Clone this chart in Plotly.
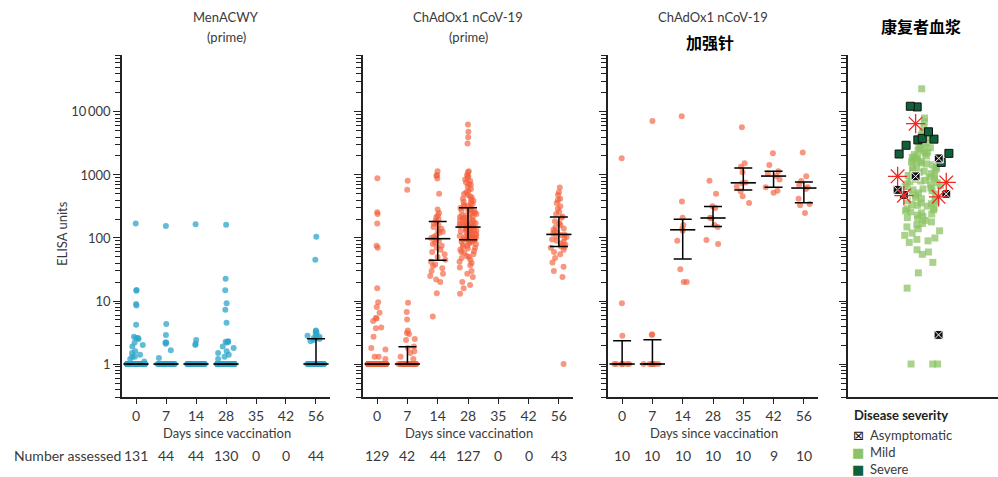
import numpy as np
import plotly.graph_objects as go

# ---------------------------------------------------------------- data
DAYS = ["0", "7", "14", "28", "35", "42", "56"]

# MenACWY (prime) – ELISA units per participant, by day
MEN_D0 = [170, 15, 14.5, 9, 8.5, 4.2, 2.7, 2.6, 2.5, 2.6, 2.2, 2.0, 1.9, 1.6, 1.5,
          1.4, 1.3, 1.2, 1.3, 1.1] + [1] * 111
MEN_D7 = [155, 4.3, 2.9, 2.2, 2.1, 2.2, 1.65, 1.25] + [1] * 36
MEN_D14 = [165, 2.4, 2.0, 2.1] + [1] * 40
MEN_D28 = [162, 22.5, 14.8, 9.2, 7.3, 4.5, 2.25, 2.3, 2.2, 2.25, 1.9, 1.8, 1.6, 1.5,
           1.4, 1.3, 1.2] + [1] * 113
MEN_D35 = []
MEN_D42 = []
MEN_D56 = [105, 45, 3.4, 3.3, 3.2, 3.0, 2.9, 2.8, 2.7, 2.6, 2.6, 2.5, 2.4, 2.3] + [1] * 30

# ChAdOx1 nCoV-19 (prime)
CHP_D0 = [890, 255, 240, 170, 75, 70, 16, 9.6, 8, 6.5, 5.4, 5.3, 4.8, 3.8, 3.7, 2.7,
          1.8, 1.7, 1.3, 1.3, 1.2] + [1] * 108
CHP_D7 = [810, 585, 9.4, 6.7, 5.1, 3.4, 3.1, 3.0, 2.5, 2.4, 1.9, 1.8, 1.6, 1.5, 1.3,
          1.2] + [1] * 26
CHP_D14 = [5.7, 13.3, 20, 22, 25, 27, 30, 33, 36, 38, 42, 45, 50, 55, 60, 65, 70, 75,
           80, 85, 90, 95, 100, 105, 110, 120, 125, 130, 140, 150, 160, 170, 180, 190,
           200, 215, 230, 250, 283, 505, 880, 970, 1000, 1140]
CHP_D28 = [6300, 4850, 3950, 3150, 1150, 1100, 1000, 950, 900, 850, 800, 760, 720, 700,
           650, 600, 560, 530, 500, 480, 460, 440, 420, 400, 390, 375, 360, 345, 335,
           325, 315,
           305, 300, 290, 280, 270, 265, 260, 250, 245, 240, 230, 225, 220, 215, 210,
           205, 200, 195, 190, 185, 180, 175, 172, 170, 168, 165, 162, 160, 158, 155,
           152, 150, 149,
           146, 143, 140, 138, 135, 132, 130, 128, 125, 122, 120, 118, 116, 114, 112,
           110, 108, 106, 104, 103, 102, 101, 100, 99, 98, 97, 96, 96, 95, 95, 95,
           93, 91, 89, 87, 85, 83, 80, 78, 75, 72, 70, 68, 65, 62, 60, 58, 55, 52, 50,
           48, 45, 42, 40, 37, 34, 30, 27, 24, 20, 18, 16, 13]
CHP_D35 = []
CHP_D42 = []
CHP_D56 = [1, 24, 30, 35, 41, 48, 55, 60, 65, 70, 72, 74, 78, 82, 86, 90, 95, 100, 104,
           108, 112, 114, 118, 122, 128, 135, 142, 150, 160, 172, 185, 210, 220, 240,
           260, 290, 320, 360, 400, 420, 480, 530, 635]

# ChAdOx1 nCoV-19 booster
CHB_D0 = [1840, 9.2, 2.8, 1, 1, 1, 1, 1, 1, 1]
CHB_D7 = [7200, 2.97, 2.9, 1, 1, 1, 1, 1, 1, 1]
CHB_D14 = [8500, 380, 210, 160, 140, 130, 90, 32, 20, 20]
CHB_D28 = [810, 505, 320, 300, 210, 205, 160, 150, 93, 80]
CHB_D35 = [5700, 1540, 1350, 1100, 760, 740, 650, 550, 460, 360]
CHB_D42 = [2200, 1440, 1150, 1050, 960, 850, 640, 560, 520]
CHB_D56 = [2280, 950, 800, 700, 640, 600, 420, 345, 330, 250]

# Convalescent plasma, by disease severity
CP_MILD = [23300, 8000, 7000, 5600, 4800, 4300, 3900, 3600, 3400, 3200, 3000, 2800,
           2700, 2600, 2500, 2400, 2300, 2200, 2100, 2000, 1950, 1900, 1850, 1800,
           1700, 1650, 1600, 1550, 1500, 1450, 1400, 1350, 1300, 1250, 1200, 1180,
           1150, 1100, 1050, 1000, 980, 950, 920, 900, 870, 850, 820, 800, 780, 750,
           720, 700, 680, 650, 620, 600, 580, 560, 540, 520, 500, 480, 460, 440, 420,
           400, 390, 380, 360, 350, 340, 330, 320, 300, 290, 280, 270, 260, 250, 240,
           230, 220, 210, 200, 190, 180, 170, 160, 150, 140, 130, 120, 110, 100, 95,
           90, 85, 65, 60, 55, 41, 28, 16, 1, 1, 1]
CP_SEVERE = [12300, 12000, 4840, 3800, 3700, 3600, 2960, 2200, 2150, 1580]
CP_ASYMPTOMATIC = [1830, 950, 580, 500, 480, 2.9]
CP_HIGHLIGHT = [6500, 950, 760, 470, 450]

SEVERITY = ["Asymptomatic", "Mild", "Severe"]

Y_TICKS = [1, 10, 100, 1000, 10000]
Y_TICK_TEXT = ["1", "10", "100", "1000", "10\u2009000"]

MEN = [MEN_D0, MEN_D7, MEN_D14, MEN_D28, MEN_D35, MEN_D42, MEN_D56]
CHP = [CHP_D0, CHP_D7, CHP_D14, CHP_D28, CHP_D35, CHP_D42, CHP_D56]
CHB = [CHB_D0, CHB_D7, CHB_D14, CHB_D28, CHB_D35, CHB_D42, CHB_D56]

# ---------------------------------------------------------------- layout helpers
W, H = 998, 477
PANEL_X = [(122, 330), (363, 573), (608, 818), (848, 998)]
PLOT_TOP, PLOT_BOTTOM = 55, 397
TEXT = "#3a3a3a"
FONT = "Lato, 'Noto Sans', sans-serif"
CJK = "'Noto Sans CJK SC', sans-serif"
MILD_COLOR = "#8cc465"
SEVERE_COLOR = "#10613a"
STAR_COLOR = "#ee2a24"


def px_x(p):
    return p / W


def px_y(p):
    return 1 - p / H


fig = go.Figure()


def add_points(i, groups, color, opacity):
    xs, ys = [], []
    for d, vals in zip(DAYS, groups):
        xs += [d] * len(vals)
        ys += vals
    fig.add_trace(go.Box(
        x=xs, y=ys, xaxis=f"x{i}", yaxis=f"y{i}",
        boxpoints="all", jitter=1, pointpos=0, width=0.6,
        fillcolor="rgba(0,0,0,0)", line=dict(color="rgba(0,0,0,0)", width=0),
        marker=dict(color=color, size=6, opacity=opacity),
        hoveron="points", showlegend=False))


def add_iqr(i, groups):
    days, med, up, lo = [], [], [], []
    for d, vals in zip(DAYS, groups):
        if not vals:
            continue
        q1, m, q3 = np.percentile(vals, [25, 50, 75])
        days.append(d)
        med.append(m)
        up.append(q3 - m)
        lo.append(m - q1)
    fig.add_trace(go.Scatter(
        x=days, y=med, xaxis=f"x{i}", yaxis=f"y{i}", mode="markers",
        marker=dict(symbol="line-ew", size=18, color="black",
                    line=dict(color="black", width=1.6)),
        error_y=dict(type="data", symmetric=False, array=up, arrayminus=lo,
                     color="black", thickness=1.5, width=9),
        showlegend=False, hoverinfo="skip"))


add_points(1, MEN, "#2ea6cb", 0.75)
add_iqr(1, MEN)
add_points(2, CHP, "#f2603a", 0.65)
add_iqr(2, CHP)
add_points(3, CHB, "#f2603a", 0.65)
add_iqr(3, CHB)

# convalescent plasma panel
CP_CAT = "CP"


def add_cp(name, vals, marker, width):
    fig.add_trace(go.Box(
        name=name, x=[CP_CAT] * len(vals), y=vals, xaxis="x4", yaxis="y4",
        boxpoints="all", jitter=1, pointpos=0, width=width,
        fillcolor="rgba(0,0,0,0)", line=dict(color="rgba(0,0,0,0)", width=0),
        marker=marker, hoveron="points", showlegend=False))


add_cp("Mild", CP_MILD, dict(symbol="square", size=7, color=MILD_COLOR,
                             opacity=0.75, line=dict(width=0)), 0.5)
add_cp("Severe", CP_SEVERE, dict(symbol="square", size=8, color=SEVERE_COLOR,
                                 line=dict(color="#111", width=1)), 1.0)
add_cp("Asymptomatic", CP_ASYMPTOMATIC,
       dict(symbol="square-x", size=9, color="#111",
            line=dict(color="white", width=1)), 0.8)
add_cp("", CP_HIGHLIGHT, dict(symbol="asterisk-open", size=16, color=STAR_COLOR,
                              line=dict(color=STAR_COLOR, width=1.3)), 0.8)

# ---------------------------------------------------------------- axes
minor_vals = []
for dec in [0.1, 1, 10, 100, 1000, 10000]:
    for k in range(2, 10):
        v = k * dec
        if 0.3 <= v <= 80000:
            minor_vals.append(v)

layout = dict(
    width=W, height=H, margin=dict(l=0, r=0, t=0, b=0),
    paper_bgcolor="white", plot_bgcolor="white",
    font=dict(family=FONT, size=13, color=TEXT),
    boxmode="overlay", showlegend=False,
)

for i, (x0, x1) in enumerate(PANEL_X, start=1):
    suffix = "" if i == 1 else str(i)
    is_cp = i == 4
    layout[f"xaxis{suffix}"] = dict(
        domain=[px_x(x0), px_x(x1)], anchor=f"y{i}", type="category",
        categoryorder="array",
        categoryarray=[CP_CAT] if is_cp else DAYS,
        range=[-1, 1] if is_cp else [-0.467, 6.467],
        showline=True, linecolor="#222", linewidth=1.5,
        ticks="" if is_cp else "outside", ticklen=5, tickwidth=1.2, tickcolor="#222",
        showticklabels=not is_cp, tickfont=dict(size=14, color=TEXT),
        showgrid=False, zeroline=False, fixedrange=True)
    layout[f"yaxis{suffix}"] = dict(
        domain=[px_y(PLOT_BOTTOM), px_y(PLOT_TOP)], anchor=f"x{i}", type="log",
        range=[np.log10(0.3), np.log10(80000)],
        tickmode="array", tickvals=Y_TICKS, ticktext=Y_TICK_TEXT,
        showticklabels=(i == 1), tickfont=dict(size=13, color=TEXT),
        ticks="outside", ticklen=7, tickwidth=1.2, tickcolor="#222",
        minor=dict(tickvals=minor_vals, ticks="outside", ticklen=5, tickwidth=1,
                   tickcolor="#222", showgrid=False),
        showline=True, linecolor="#222", linewidth=1.5,
        showgrid=False, zeroline=False, fixedrange=True)

fig.update_layout(**layout)

# ---------------------------------------------------------------- text
ann = []


def label(text, x, y, size=13, color=TEXT, family=None, xref="paper", **kw):
    f = dict(size=size, color=color)
    if family:
        f["family"] = family
    d = dict(text=text, x=x, y=y, xref=xref, yref="paper", showarrow=False,
             xanchor="center", yanchor="middle", font=f)
    d.update(kw)
    ann.append(d)


label("MenACWY", px_x(226), px_y(17))
label("(prime)", px_x(226), px_y(37))
label("ChAdOx1 nCoV-19", px_x(468), px_y(17))
label("(prime)", px_x(468), px_y(37))
label("ChAdOx1 nCoV-19", px_x(713), px_y(17))
label("<b>加强针</b>", px_x(710), px_y(42), size=16, color="black", family=CJK)
label("<b>康复者血浆</b>", px_x(921), px_y(26), size=16, color="black", family=CJK)

for i, groups in enumerate([MEN, CHP, CHB], start=1):
    x0, x1 = PANEL_X[i - 1]
    label("Days since vaccination", px_x((x0 + x1) / 2 + 1), px_y(433))
    xr = "x" if i == 1 else f"x{i}"
    for k, vals in enumerate(groups):
        label(str(len(vals)), k, px_y(455), size=14, xref=xr)

label("Number assessed", px_x(12), px_y(455), size=14, xanchor="left")
label("ELISA units", px_x(62), px_y(234), textangle=-90)

# severity key
label("<b>Disease severity</b>", px_x(852), px_y(415), color="#222", xanchor="left")
KEY_GLYPH = {"Asymptomatic": ("\u22a0", "#111"), "Mild": ("\u25a0", MILD_COLOR),
             "Severe": ("\u25a0", SEVERE_COLOR)}
for row, name in enumerate(SEVERITY):
    y = px_y(435 + 17 * row)
    glyph, col = KEY_GLYPH[name]
    label(glyph, px_x(858), y, size=13, color=col,
          family="'DejaVu Sans', sans-serif")
    label(name, px_x(868), y, xanchor="left")

fig.update_layout(annotations=ann)
fig.write_html("out.html")
